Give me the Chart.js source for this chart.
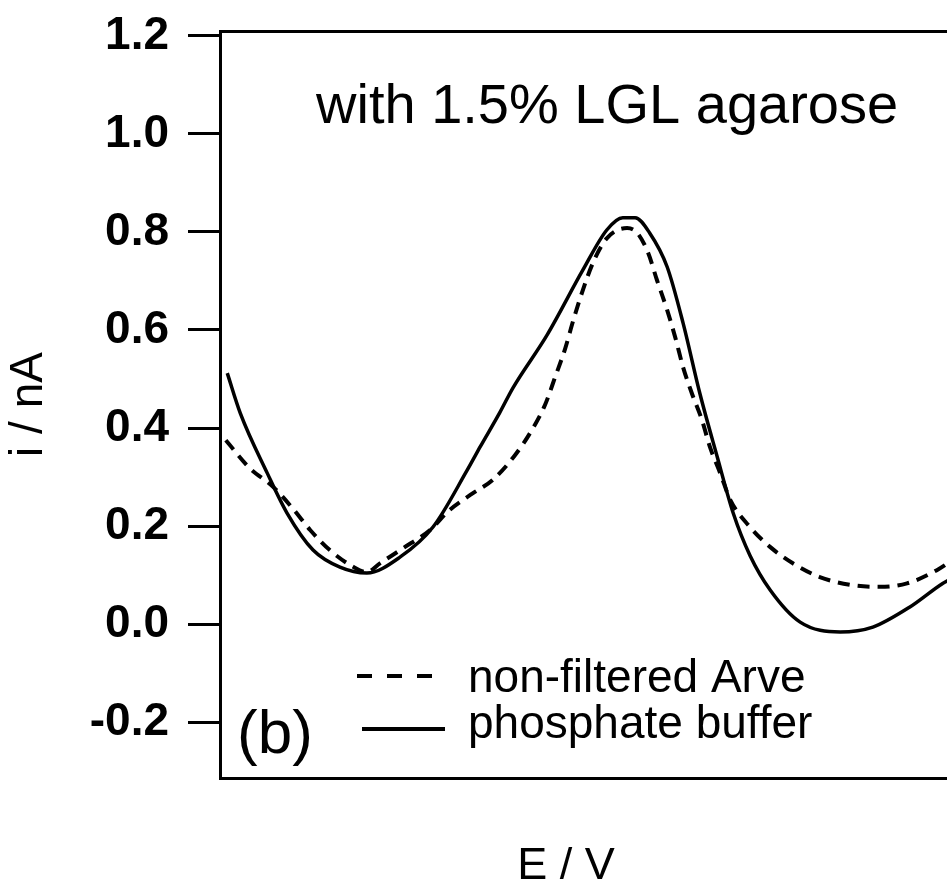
<!DOCTYPE html>
<html>
<head>
<meta charset="utf-8">
<title>with 1.5% LGL agarose</title>
<script src="https://cdn.jsdelivr.net/npm/chart.js@4.4.0/dist/chart.umd.min.js"></script>
<style>
html, body { margin: 0; padding: 0; background: #fff; }
#wrap { width: 947px; height: 883px; }
</style>
</head>
<body>
<div id="wrap"><canvas id="myChart" width="947" height="883"></canvas></div>
<script>
"use strict";

// potential (arbitrary, 0..1 across the plotted window) and current in nA
var E_ARVE = [0.008, 0.041, 0.073, 0.100, 0.124, 0.151, 0.183, 0.202, 0.220, 0.252, 0.289, 0.316, 0.348, 0.375, 0.406, 0.429, 0.447, 0.461, 0.475, 0.486, 0.499, 0.513, 0.532, 0.560, 0.574, 0.589, 0.601, 0.615, 0.626, 0.637, 0.649, 0.663, 0.674, 0.688, 0.702, 0.729, 0.757, 0.788, 0.825, 0.867, 0.908, 0.945, 0.986, 1.005];
var I_ARVE = [0.375, 0.318, 0.280, 0.236, 0.192, 0.151, 0.117, 0.106, 0.124, 0.155, 0.192, 0.233, 0.267, 0.294, 0.345, 0.396, 0.447, 0.504, 0.563, 0.620, 0.681, 0.737, 0.787, 0.808, 0.798, 0.757, 0.702, 0.641, 0.586, 0.524, 0.471, 0.416, 0.361, 0.308, 0.253, 0.198, 0.157, 0.124, 0.096, 0.080, 0.076, 0.083, 0.110, 0.128];

var E_BUFFER = [0.010, 0.028, 0.065, 0.092, 0.128, 0.165, 0.202, 0.248, 0.293, 0.340, 0.358, 0.385, 0.403, 0.450, 0.499, 0.532, 0.554, 0.571, 0.591, 0.615, 0.637, 0.660, 0.684, 0.706, 0.729, 0.757, 0.798, 0.853, 0.898, 0.949, 0.994, 1.005];
var I_BUFFER = [0.512, 0.430, 0.308, 0.227, 0.151, 0.116, 0.104, 0.137, 0.198, 0.314, 0.362, 0.432, 0.482, 0.590, 0.722, 0.804, 0.829, 0.829, 0.798, 0.729, 0.614, 0.471, 0.341, 0.226, 0.140, 0.069, 0.004, -0.016, -0.006, 0.035, 0.083, 0.092];

var Y_TICKS = [-0.2, 0.0, 0.2, 0.4, 0.6, 0.8, 1.0, 1.2];
var SERIES_NAMES = ['non-filtered Arve', 'phosphate buffer'];
var PLOT_TITLE = 'with 1.5% LGL agarose';
var PANEL_TAG = '(b)';
var X_TITLE = 'E / V';
var Y_TITLE = 'i / nA';

var FONT = '"Liberation Sans", Arial, sans-serif';

function toPoints(xs, ys) {
    return xs.map(function (x, i) { return { x: x, y: ys[i] }; });
}

// texts and legend placed inside the frame like the original figure
var annotations = {
    id: 'annotations',
    afterDraw: function (chart) {
        var ctx = chart.ctx;
        ctx.save();
        ctx.fillStyle = '#000';
        ctx.textBaseline = 'alphabetic';

        ctx.font = '56px ' + FONT;
        ctx.fillText(PLOT_TITLE, 316, 123);

        ctx.font = '62px ' + FONT;
        ctx.fillText(PANEL_TAG, 237, 753);

        // legend
        var rows = [
            { ds: chart.data.datasets[0], y: 676, x0: 357, x1: 433, textY: 692 },
            { ds: chart.data.datasets[1], y: 729, x0: 362, x1: 445, textY: 738 }
        ];
        ctx.font = '46px ' + FONT;
        rows.forEach(function (r) {
            ctx.beginPath();
            ctx.lineWidth = 4;
            ctx.strokeStyle = '#000';
            ctx.setLineDash(r.ds.borderDash.length ? [15, 15] : []);
            ctx.moveTo(r.x0, r.y);
            ctx.lineTo(r.x1, r.y);
            ctx.stroke();
            ctx.fillText(r.ds.label, 468, r.textY);
        });
        ctx.setLineDash([]);

        ctx.font = '45px ' + FONT;
        ctx.textAlign = 'center';
        ctx.fillText(X_TITLE, 566, 879);
        ctx.restore();
    }
};

var chart = new Chart(document.getElementById('myChart'), {
    type: 'line',
    data: {
        datasets: [
            {
                label: SERIES_NAMES[0],
                data: toPoints(E_ARVE, I_ARVE),
                borderColor: '#000',
                borderWidth: 4,
                borderDash: [12, 8],
                pointRadius: 0,
                cubicInterpolationMode: 'monotone',
                fill: false
            },
            {
                label: SERIES_NAMES[1],
                data: toPoints(E_BUFFER, I_BUFFER),
                borderColor: '#000',
                borderWidth: 3.5,
                borderDash: [],
                pointRadius: 0,
                cubicInterpolationMode: 'monotone',
                fill: false
            }
        ]
    },
    options: {
        responsive: false,
        animation: false,
        devicePixelRatio: 1,
        layout: { padding: 0 },
        plugins: {
            legend: { display: false },
            tooltip: { enabled: false }
        },
        scales: {
            x: {
                type: 'linear',
                position: 'bottom',
                min: 0,
                max: 1,
                ticks: { display: false },
                grid: { display: false },
                border: { display: true, color: '#000', width: 3 },
                afterFit: function (s) { s.height = 105; }
            },
            x2: {
                type: 'linear',
                position: 'top',
                min: 0,
                max: 1,
                ticks: { display: false },
                grid: { display: false },
                border: { display: true, color: '#000', width: 3 },
                afterFit: function (s) { s.height = 31; }
            },
            y: {
                type: 'linear',
                min: -0.314,
                max: 1.21,
                afterBuildTicks: function (s) {
                    s.ticks = Y_TICKS.map(function (v) { return { value: v }; });
                },
                afterFit: function (s) {
                    s.width = 220;
                    s.paddingTop = 0;
                    s.paddingBottom = 0;
                },
                ticks: {
                    color: '#000',
                    padding: 19,
                    font: { family: FONT, size: 46, weight: 'bold' },
                    callback: function (v) { return Number(v).toFixed(1); }
                },
                grid: {
                    drawOnChartArea: false,
                    drawTicks: true,
                    tickLength: 32,
                    lineWidth: 3,
                    color: '#000'
                },
                border: { display: true, color: '#000', width: 3 },
                title: {
                    display: true,
                    text: Y_TITLE,
                    color: '#000',
                    padding: { top: 2, bottom: 0 },
                    font: { family: FONT, size: 46, weight: 'normal' }
                }
            }
        }
    },
    plugins: [annotations]
});
</script>
</body>
</html>
